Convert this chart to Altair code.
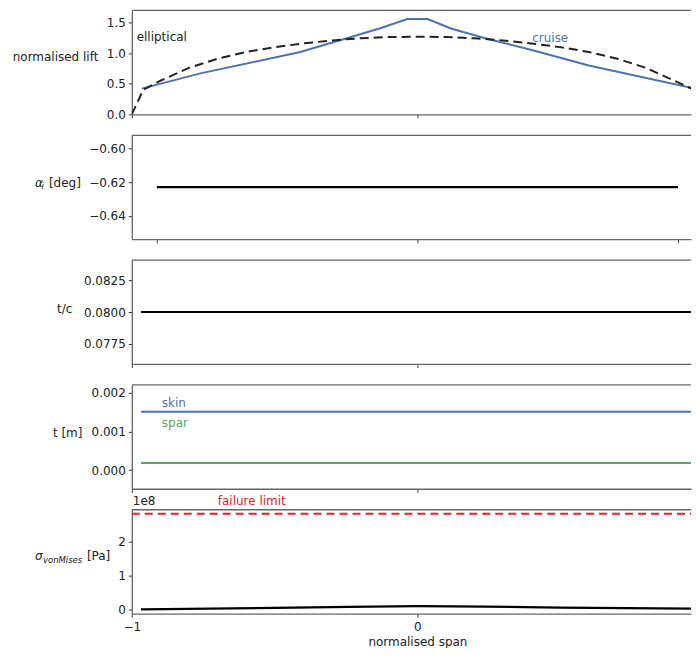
import altair as alt
import pandas as pd

FONT = "DejaVu Sans"
TXT = "#222222"
SPINE = "#666666"
W = 560
H = 104

# ---------------- data ----------------
# panel 1: normalised lift
cruise_x = [-0.965, -0.76, -0.41, -0.25, -0.13, -0.035, 0.035, 0.12, 0.25, 0.41, 0.60, 0.962]
cruise_lift = [0.42, 0.67, 1.02, 1.24, 1.41, 1.56, 1.56, 1.40, 1.23, 1.04, 0.80, 0.43]
ellip_x = [-1.0, -0.96, -0.9, -0.8, -0.7, -0.6, -0.5, -0.4, -0.3, -0.2, -0.1, 0.0,
           0.1, 0.2, 0.3, 0.4, 0.5, 0.6, 0.7, 0.8, 0.9, 0.96, 1.0]
ellip_lift = [0.0, 0.40, 0.55, 0.76, 0.91, 1.02, 1.10, 1.16, 1.21, 1.245, 1.265, 1.27,
              1.265, 1.245, 1.21, 1.16, 1.10, 1.02, 0.91, 0.76, 0.55, 0.42, 0.0]
lift_labels = ["elliptical", "cruise"]
lift_label_x = [-0.983, 0.402]
lift_label_y = [1.27, 1.25]

# panel 2: induced angle
alpha_x = [-1.0, 1.0]
alpha_deg = [-0.623, -0.623]

# panel 3: thickness-to-chord
tc_x = [-0.968, 0.968]
tc_val = [0.0800, 0.0800]

# panel 4: skin / spar thickness
thick_x = [-0.968, 0.968]
skin_t = [0.00151, 0.00151]
spar_t = [0.00018, 0.00018]
thick_labels = ["skin", "spar"]
thick_label_x = [-0.895, -0.895]
thick_label_y = [0.00174, 0.00123]

# panel 5: von Mises stress
vm_x = [-0.968, -0.5, -0.24, 0.0, 0.24, 0.5, 0.968]
vm_val = [0.005e8, 0.05e8, 0.08e8, 0.10e8, 0.085e8, 0.06e8, 0.025e8]
limit_x = [-1.0, 1.0]
limit_val = [2.82e8, 2.82e8]
limit_label = ["failure limit"]
limit_label_x = [-0.699]
limit_label_y = [3.2e8]

# ---------------- helpers ----------------
def df(xs, ys):
    return pd.DataFrame({"x": xs, "y": ys})


def xenc(domain, ticks, labels=False, title=None):
    ax = dict(values=ticks, labels=labels, grid=False, tickSize=3.5, tickColor="#333333",
              domainColor=SPINE, domainWidth=1.3, labelFont=FONT, labelFontSize=12,
              labelColor=TXT, labelPadding=4, labelFlush=False)
    if title:
        ax.update(title=title, titleFont=FONT, titleFontSize=12, titleFontWeight="normal",
                  titleColor=TXT, titleX=286, titleY=28, titleBaseline="middle",
                  titleAlign="center")
    else:
        ax.update(title=None)
    return alt.X("x:Q", scale=alt.Scale(domain=domain, nice=False, zero=False),
                 axis=alt.Axis(**ax))


def yenc(domain, ticks, fmt=None, expr=None, title=None, tx=0, ty=0):
    ax = dict(values=ticks, grid=False, tickSize=3.5, tickColor="#333333",
              domainColor=SPINE, domainWidth=1.3, labelFont=FONT, labelFontSize=12,
              labelColor=TXT, labelPadding=3, labelFlush=False)
    if fmt:
        ax["format"] = fmt
    if expr:
        ax["labelExpr"] = expr
    if title:
        ax.update(title=title, titleFont=FONT, titleFontSize=12, titleFontWeight="normal",
                  titleColor=TXT, titleAngle=0, titleAlign="right", titleBaseline="middle",
                  titleX=tx, titleY=ty)
    else:
        ax.update(title=None)
    return alt.Y("y:Q", scale=alt.Scale(domain=domain, nice=False, zero=False),
                 axis=alt.Axis(**ax))


def top_spine():
    return alt.Chart(pd.DataFrame({"k": [0]})).mark_rule(
        color=SPINE, strokeWidth=1.3).encode(
        x=alt.value(0), x2=alt.value(W), y=alt.value(0))


def free_text(txt, px, py, size=12, style="normal", align="left", color=TXT):
    return alt.Chart(pd.DataFrame({"t": [txt]})).mark_text(
        font=FONT, fontSize=size, fontStyle=style, align=align, baseline="middle",
        color=color).encode(x=alt.value(px), y=alt.value(py), text="t:N")


XD = [-1.0, 0.958]
XT = [-1, 0]

# ---------------- panel 1 ----------------
Y1 = [0.0, 1.70]
p1x = xenc(XD, XT)
p1y = yenc(Y1, [0, 0.5, 1.0, 1.5], fmt=".1f", title="normalised lift", tx=-34, ty=46)
ell = alt.Chart(df(ellip_x, ellip_lift)).mark_line(
    color="#222222", strokeWidth=2, strokeDash=[9, 5], clip=True).encode(x=p1x, y=p1y)
cru = alt.Chart(df(cruise_x, cruise_lift)).mark_line(
    color="#4c72b0", strokeWidth=2, clip=True).encode(x=p1x, y=p1y)
lab1 = pd.DataFrame({"x": lift_label_x, "y": lift_label_y, "t": lift_labels,
                     "c": ["#222222", "#4c72b0"]})
t1 = alt.Chart(lab1).mark_text(font=FONT, fontSize=12, align="left", baseline="middle").encode(
    x=p1x, y=p1y, text="t:N", color=alt.Color("c:N", scale=None))
panel1 = alt.layer(cru, ell, t1, top_spine()).properties(width=W, height=H)

# ---------------- panel 2 ----------------
p2x = xenc([-1.096, 1.050], [-1, 0, 1])
p2y = yenc([-0.654, -0.592], [-0.64, -0.62, -0.60], fmt=".2f")
al = alt.Chart(df(alpha_x, alpha_deg)).mark_line(color="black", strokeWidth=2.2).encode(x=p2x, y=p2y)
panel2 = alt.layer(
    al, top_spine(),
    free_text("α", -97, 48, size=12, style="italic"),
    free_text("i", -90.5, 51, size=8.5, style="italic"),
    free_text("[deg]", -83, 48),
).properties(width=W, height=H)

# ---------------- panel 3 ----------------
p3x = xenc(XD, XT)
p3y = yenc([0.0759, 0.0841], [0.0775, 0.0800, 0.0825], fmt=".4f", title="t/c", tx=-60, ty=48)
tc = alt.Chart(df(tc_x, tc_val)).mark_line(color="black", strokeWidth=2.2, clip=True).encode(x=p3x, y=p3y)
panel3 = alt.layer(tc, top_spine()).properties(width=W, height=H)

# ---------------- panel 4 ----------------
p4x = xenc(XD, XT)
p4y = yenc([-0.000487, 0.00221], [0.0, 0.001, 0.002], fmt=".3f", title="t [m]", tx=-50, ty=48)
sk = alt.Chart(df(thick_x, skin_t)).mark_line(color="#4c72b0", strokeWidth=2, clip=True).encode(x=p4x, y=p4y)
sp = alt.Chart(df(thick_x, spar_t)).mark_line(color="#55a868", strokeWidth=2, clip=True).encode(x=p4x, y=p4y)
lab4 = pd.DataFrame({"x": thick_label_x, "y": thick_label_y, "t": thick_labels,
                     "c": ["#4c72b0", "#55a868"]})
t4 = alt.Chart(lab4).mark_text(font=FONT, fontSize=12, align="left", baseline="middle").encode(
    x=p4x, y=p4y, text="t:N", color=alt.Color("c:N", scale=None))
panel4 = alt.layer(sk, sp, t4, top_spine()).properties(width=W, height=H)

# ---------------- panel 5 ----------------
p5x = xenc(XD, XT, labels=True, title="normalised span")
p5y = yenc([-0.118e8, 2.94e8], [0, 1e8, 2e8], expr="format(datum.value / 1e8, 'd')")
vm = alt.Chart(df(vm_x, vm_val)).mark_line(color="black", strokeWidth=2.2, clip=True).encode(x=p5x, y=p5y)
lim = alt.Chart(df(limit_x, limit_val)).mark_line(
    color="#e4202f", strokeWidth=2, strokeDash=[8, 5], clip=True).encode(x=p5x, y=p5y)
lab5 = pd.DataFrame({"x": limit_label_x, "y": limit_label_y, "t": limit_label})
t5 = alt.Chart(lab5).mark_text(font=FONT, fontSize=12, align="left", baseline="middle",
                               color="#e4202f").encode(x=p5x, y=p5y, text="t:N")
panel5 = alt.layer(
    vm, lim, t5, top_spine(),
    free_text("1e8", 1, -9),
    free_text("σ", -97, 46, size=12, style="italic"),
    free_text("vonMises", -89, 50, size=8.5, style="italic"),
    free_text("[Pa]", -45, 46),
).properties(width=W, height=H)

chart = alt.vconcat(panel1, panel2, panel3, panel4, panel5, spacing=21, bounds="flush").resolve_scale(
    x="independent", y="independent"
).properties(
    padding={"left": 4, "top": 1, "right": 0, "bottom": 0},
    background="white",
).configure_view(stroke=None, strokeWidth=0)

chart.save("out.html", embed_options={"renderer": "svg", "actions": False})
